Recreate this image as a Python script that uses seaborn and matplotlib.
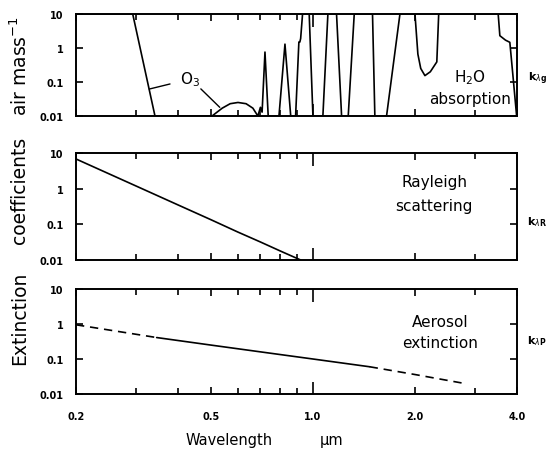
import matplotlib
matplotlib.use("Agg")
import matplotlib.pyplot as plt
import seaborn as sns
import pandas as pd
from matplotlib.ticker import FixedLocator, NullLocator, FixedFormatter

# ---------------- data ----------------
gas_wl = [0.2, 0.294, 0.342, 0.504, 0.54, 0.57, 0.601, 0.635, 0.665, 0.688,
          0.700, 0.708, 0.722, 0.738, 0.794, 0.827, 0.86, 0.889, 0.909, 0.915,
          0.920, 0.932, 0.975, 1.0, 1.07, 1.107, 1.174, 1.215, 1.271, 1.324,
          1.499, 1.523, 1.649, 1.806, 2.0, 2.04, 2.08, 2.14, 2.22, 2.32, 2.35,
          3.52, 3.56, 3.70, 3.81, 3.90, 3.99]
gas_k = [10, 10, 0.01, 0.01, 0.017, 0.023, 0.025, 0.023, 0.017, 0.01,
         0.018, 0.013, 0.76, 0.01, 0.01, 1.3, 0.01, 0.01, 1.5, 1.5,
         1.9, 10, 10, 0.01, 0.01, 10, 10, 0.01, 0.01, 10,
         10, 0.01, 0.01, 10, 10, 0.66, 0.25, 0.154, 0.2, 0.39, 10,
         10, 2.3, 1.7, 1.47, 0.12, 0.01]

ray_wl = [0.2, 0.3, 0.4, 0.5, 0.6, 0.7, 0.8, 0.92]
ray_k = [6.8, 1.2, 0.35, 0.135, 0.061, 0.032, 0.018, 0.01]

aer_wl_a = [0.2, 0.346]
aer_k_a = [0.95, 0.41]
aer_wl_b = [0.346, 0.5, 0.7, 1.0, 1.47]
aer_k_b = [0.41, 0.25, 0.16, 0.10, 0.06]
aer_wl_c = [1.47, 2.0, 2.8]
aer_k_c = [0.06, 0.036, 0.02]

ytick_vals = [0.01, 0.1, 1, 10]
ytick_labels = ["0.01", "0.1", "1", "10"]
xtick_vals = [0.2, 0.5, 1.0, 2.0, 4.0]
xtick_labels = ["0.2", "0.5", "1.0", "2.0", "4.0"]
xminor_vals = [0.3, 0.4, 0.6, 0.7, 0.8, 0.9, 3.0]

# ---------------- style ----------------
sns.set_style("ticks")
plt.rcParams['font.family'] = ['DejaVu Sans']
plt.rcParams['text.color'] = 'black'
plt.rcParams['xtick.color'] = 'black'
plt.rcParams['ytick.color'] = 'black'

fig = plt.figure(figsize=(5.57, 4.56), dpi=100)
W, H = 557, 456
left = 76 / W
width = (517 - 76) / W

def add_panel(ytop, ybot):
    return fig.add_axes([left, 1 - ybot / H, width, (ybot - ytop) / H])

ax_g = add_panel(15, 117)
ax_r = add_panel(154, 261)
ax_p = add_panel(290, 395)

lw = 1.2
sns.lineplot(data=pd.DataFrame({"wl": gas_wl, "k": gas_k}), x="wl", y="k",
             ax=ax_g, color="black", lw=lw, estimator=None, sort=False)
sns.lineplot(data=pd.DataFrame({"wl": ray_wl, "k": ray_k}), x="wl", y="k",
             ax=ax_r, color="black", lw=lw, estimator=None, sort=False)
for wl, k, dashed in [(aer_wl_a, aer_k_a, True), (aer_wl_b, aer_k_b, False),
                      (aer_wl_c, aer_k_c, True)]:
    sns.lineplot(data=pd.DataFrame({"wl": wl, "k": k}), x="wl", y="k",
                 ax=ax_p, color="black", lw=lw, estimator=None, sort=False)
    if dashed:
        ax_p.lines[-1].set_dashes([5, 3.5])

for i, ax in enumerate([ax_g, ax_r, ax_p]):
    ax.set_xscale("log")
    ax.set_yscale("log")
    ax.set_xlim(0.2, 4.0)
    ax.set_ylim(0.01, 10)
    ax.set_xlabel("")
    ax.set_ylabel("")
    for s in ax.spines.values():
        s.set_visible(True)
        s.set_linewidth(1.4)
        s.set_color("black")
    ax.yaxis.set_major_locator(FixedLocator(ytick_vals))
    ax.yaxis.set_major_formatter(FixedFormatter(ytick_labels))
    ax.yaxis.set_minor_locator(NullLocator())
    ax.xaxis.set_major_locator(FixedLocator(xtick_vals))
    ax.xaxis.set_minor_locator(FixedLocator(xminor_vals))
    ax.tick_params(axis="both", which="both", direction="in", top=True,
                   right=True, width=1.2, color="black")
    ax.tick_params(axis="both", which="major", length=5)
    ax.tick_params(axis="x", which="minor", length=4)
    ax.tick_params(axis="y", which="major", labelsize=7, pad=9)
    for t in ax.get_yticklabels():
        t.set_fontweight("bold")
    if i == 2:
        ax.xaxis.set_major_formatter(FixedFormatter(xtick_labels))
        ax.tick_params(axis="x", which="major", labelsize=7, pad=12)
        for t in ax.get_xticklabels():
            t.set_fontweight("bold")
    else:
        ax.tick_params(axis="x", which="major", labelbottom=False)
    # longer tick at 1.0
    tk = ax.xaxis.get_major_ticks()[2]
    tk.tick1line.set_markersize(9)
    tk.tick2line.set_markersize(9)

TXT = dict(ha="center", va="center", fontsize=11)
# panel annotations
ax_g.text(0.893, 0.382, "H$_2$O", transform=ax_g.transAxes, **TXT)
ax_g.text(0.893, 0.174, "absorption", transform=ax_g.transAxes, **TXT)
ax_g.annotate("O$_3$", xy=(0.329, 0.062), xytext=(0.434, 0.122),
              ha="center", va="center", fontsize=11,
              arrowprops=dict(arrowstyle="-", lw=1.0, color="black",
                              shrinkA=5, shrinkB=0))
ax_g.annotate(" ", xy=(0.531, 0.018), xytext=(0.45, 0.09),
              ha="center", va="center", fontsize=10,
              arrowprops=dict(arrowstyle="-", lw=1.0, color="black",
                              shrinkA=0, shrinkB=0))
ax_r.text(0.812, 0.738, "Rayleigh", transform=ax_r.transAxes, **TXT)
ax_r.text(0.812, 0.514, "scattering", transform=ax_r.transAxes, **TXT)
ax_p.text(0.825, 0.695, "Aerosol", transform=ax_p.transAxes, **TXT)
ax_p.text(0.825, 0.495, "extinction", transform=ax_p.transAxes, **TXT)

# right-hand symbols
for ypx, sub in [(79, "g"), (222, "R"), (341, "P")]:
    fig.text(537 / W, 1 - ypx / H, r"k$_{\lambda \mathbf{%s}}$" % sub,
             ha="center", va="center", fontsize=8, fontweight="bold")

# axis titles
YL = dict(rotation=90, ha="center", va="center", fontsize=13.5)
fig.text(20 / W, 1 - 318 / H, "Extinction", **YL)
fig.text(20 / W, 1 - 190 / H, "coefficients", **YL)
fig.text(20 / W, 1 - 66 / H, "air mass$^{-1}$", **YL)
fig.text(229 / W, 1 - 441 / H, "Wavelength", ha="center", va="center",
         fontsize=10.5)
fig.text(332 / W, 1 - 441 / H, "μm", ha="center", va="center",
         fontsize=10.5)

fig.savefig("out.png", dpi=100, facecolor="white")
